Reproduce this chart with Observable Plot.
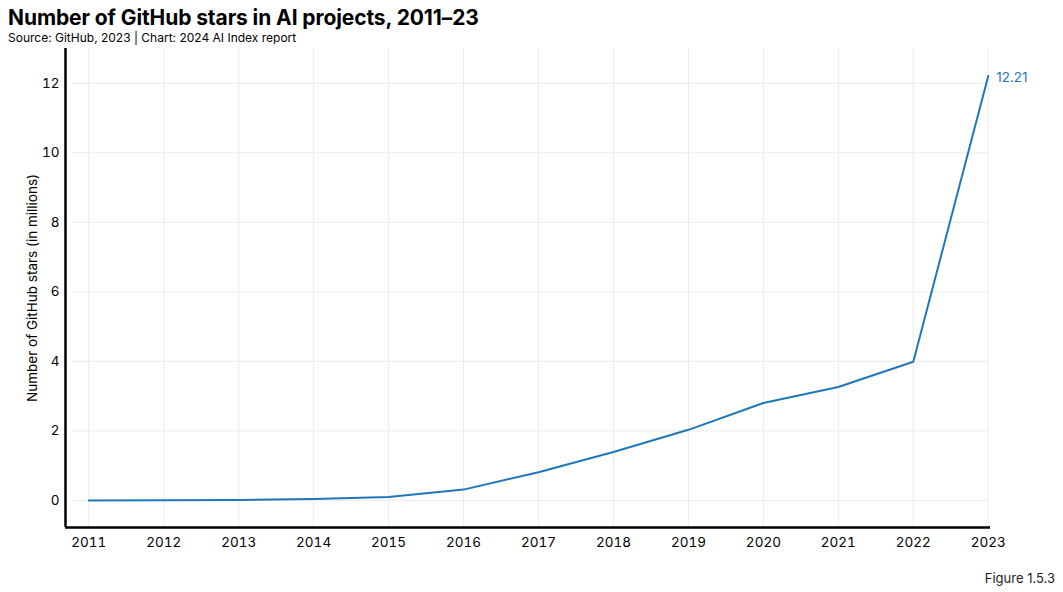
<!DOCTYPE html>
<html>
<head>
<meta charset="utf-8">
<script src="https://cdn.jsdelivr.net/npm/d3@7"></script>
<script src="https://cdn.jsdelivr.net/npm/@observablehq/plot@0.6"></script>
<style>
  body { margin: 0; background: #fff; font-family: Inter, "Noto Sans", sans-serif; }
  #wrap { width: 1063px; height: 592px; position: relative; }
  #title { position: absolute; left: 8px; top: 5px; font-size: 21px; font-weight: 700; color: #000; letter-spacing: -0.1px; }
  #subtitle { position: absolute; left: 8px; top: 30px; font-size: 12px; color: #000; }
  #chart { position: absolute; left: 0; top: 48px; }
  #caption { position: absolute; right: 8px; top: 570px; font-size: 13px; color: #222; }
</style>
</head>
<body>
<div id="wrap">
  <div id="title">Number of GitHub stars in AI projects, 2011–23</div>
  <div id="subtitle">Source: GitHub, 2023 | Chart: 2024 AI Index report</div>
  <div id="chart"></div>
  <div id="caption">Figure 1.5.3</div>
</div>
<script>
const years = [2011, 2012, 2013, 2014, 2015, 2016, 2017, 2018, 2019, 2020, 2021, 2022, 2023];
const stars = [0.0, 0.005, 0.01, 0.04, 0.1, 0.31, 0.81, 1.39, 2.03, 2.80, 3.26, 3.99, 12.21];
const yTicks = [0, 2, 4, 6, 8, 10, 12];
const lastLabel = "12.21";

const data = years.map((y, i) => ({year: y, value: stars[i]}));
const blue = "#1f77b9";
const xMin = 2010.69, xMax = 2023.03;
const yMin = -0.78, yMax = 13.0;

const chart = Plot.plot({
  width: 1063,
  height: 507,
  marginLeft: 65,
  marginRight: 73,
  marginTop: 0,
  marginBottom: 28,
  style: {fontFamily: "Inter, 'Noto Sans', sans-serif", fontSize: "13.5px", color: "#000", background: "#fff"},
  x: {domain: [xMin, xMax], ticks: years, tickFormat: d => String(d), tickSize: 0, tickPadding: 10, label: null},
  y: {domain: [yMin, yMax], ticks: yTicks, tickSize: 0, tickPadding: 6, label: "Number of GitHub stars (in millions)", labelAnchor: "center", labelArrow: "none", labelOffset: 38},
  marks: [
    Plot.ruleX(years, {x: d => d, y1: yMin, y2: yMax, stroke: "#ececec", strokeWidth: 1}),
    Plot.ruleY(yTicks, {y: d => d, x1: 2010.78, x2: 2023, stroke: "#ececec", strokeWidth: 1}),
    Plot.ruleX([xMin], {stroke: "#000", strokeWidth: 2.5}),
    Plot.ruleY([yMin], {stroke: "#000", strokeWidth: 2.5}),
    Plot.line(data, {x: "year", y: "value", stroke: blue, strokeWidth: 2}),
    Plot.text([data[data.length - 1]], {x: "year", y: "value", text: () => lastLabel, dx: 8, dy: 2, textAnchor: "start", fill: blue, fontSize: 13.5})
  ]
});
document.getElementById("chart").appendChild(chart);
</script>
</body>
</html>
